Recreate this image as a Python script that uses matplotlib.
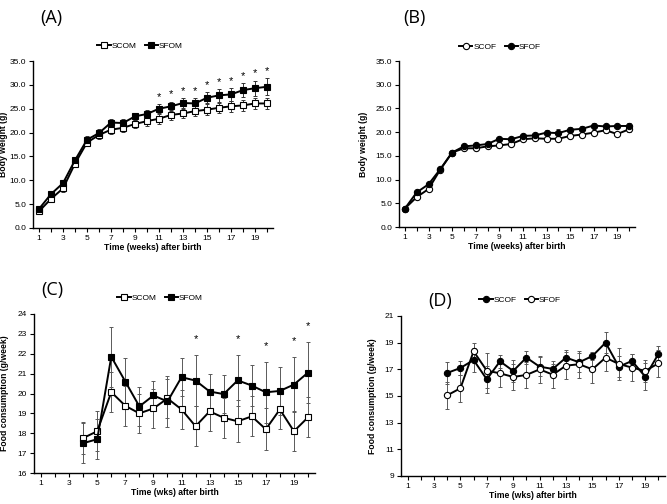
import numpy as np
import matplotlib.pyplot as plt
from matplotlib.ticker import MultipleLocator, FormatStrFormatter

plt.rcParams['font.family'] = ['Liberation Sans', 'DejaVu Sans']

# ---- data ----
weeks_bw = list(range(1, 21))
weeks_fc = list(range(4, 21))

a_scom = [3.5, 6.1, 8.3, 13.5, 17.9, 19.5, 20.6, 21.0, 21.8, 22.4, 22.9, 23.7, 24.0, 24.5, 24.8, 25.2, 25.5, 25.7, 26.1, 26.1]
a_scom_err = [0.5, 0.6, 0.7, 0.8, 0.8, 0.8, 0.9, 0.9, 0.9, 1.0, 1.0, 1.0, 1.0, 1.0, 1.1, 1.1, 1.1, 1.1, 1.2, 1.2]
a_sfom = [4.0, 7.1, 9.4, 14.2, 18.5, 19.9, 22.1, 22.0, 23.4, 23.9, 25.0, 25.5, 26.2, 26.1, 27.3, 27.8, 28.0, 28.9, 29.3, 29.6]
a_sfom_err = [0.4, 0.5, 0.6, 0.7, 0.8, 0.8, 0.8, 0.8, 0.8, 0.9, 1.0, 1.0, 1.1, 1.1, 1.2, 1.3, 1.3, 1.5, 1.6, 1.8]
a_star_weeks = [11, 12, 13, 14, 15, 16, 17, 18, 19, 20]

b_scof = [3.9, 6.3, 8.0, 12.1, 15.7, 16.6, 16.6, 17.0, 17.2, 17.5, 18.5, 18.7, 18.6, 18.6, 19.2, 19.5, 19.9, 20.4, 19.6, 20.6]
b_scof_err = [0.3, 0.4, 0.5, 0.5, 0.4, 0.4, 0.4, 0.4, 0.4, 0.4, 0.4, 0.4, 0.4, 0.4, 0.4, 0.4, 0.5, 0.5, 0.5, 0.5]
b_sfof = [3.9, 7.3, 9.0, 12.2, 15.7, 17.0, 17.2, 17.5, 18.6, 18.5, 19.2, 19.3, 19.9, 19.8, 20.5, 20.7, 21.4, 21.2, 21.3, 21.3]
b_sfof_err = [0.3, 0.4, 0.5, 0.5, 0.4, 0.4, 0.4, 0.4, 0.4, 0.4, 0.4, 0.4, 0.5, 0.8, 0.5, 0.5, 0.5, 0.5, 0.5, 0.6]

c_scom = [17.76, 18.1, 20.07, 19.38, 19.0, 19.25, 19.75, 19.2, 18.35, 19.1, 18.78, 18.6, 18.85, 18.2, 19.2, 18.1, 18.8]
c_scom_err = [0.8, 1.0, 1.0, 1.0, 1.0, 1.0, 1.0, 1.0, 1.0, 1.0, 1.0, 1.05, 1.0, 1.05, 1.0, 1.0, 1.0]
c_sfom = [17.5, 17.7, 21.85, 20.6, 19.35, 19.9, 19.6, 20.82, 20.65, 20.1, 19.97, 20.66, 20.4, 20.06, 20.13, 20.45, 21.05]
c_sfom_err = [1.0, 1.0, 1.5, 1.2, 1.0, 0.75, 1.3, 0.95, 1.3, 0.9, 0.95, 1.3, 1.05, 1.55, 1.2, 1.4, 1.55]
c_star_weeks = [12, 15, 17, 19, 20]

d_scof = [16.73, 17.1, 17.7, 16.25, 17.6, 16.88, 17.88, 17.2, 17.03, 17.88, 17.53, 18.0, 19.0, 17.2, 17.63, 16.45, 18.15]
d_scof_err = [0.8, 0.5, 0.9, 1.0, 0.5, 0.8, 0.5, 0.7, 0.4, 0.6, 0.7, 0.3, 0.8, 0.8, 0.5, 1.0, 0.6]
d_sfof = [15.05, 15.58, 18.35, 16.9, 16.7, 16.43, 16.58, 17.0, 16.6, 17.28, 17.38, 17.0, 17.88, 17.4, 17.13, 16.88, 17.45]
d_sfof_err = [1.0, 1.0, 0.65, 1.3, 1.0, 1.0, 1.0, 1.0, 1.0, 1.0, 1.0, 1.0, 1.0, 1.2, 1.0, 0.8, 1.0]

bw_yticks = [0, 5, 10, 15, 20, 25, 30, 35]
c_yticks = [16, 17, 18, 19, 20, 21, 22, 23, 24]
d_yticks = [9, 11, 13, 15, 17, 19, 21]

W, H = 667, 504


def px_axes(fig, left, right, top, bottom):
    return fig.add_axes([left / W, 1 - bottom / H, (right - left) / W, (bottom - top) / H])


def style(ax, xlabel, ylabel, yticks, yfmt, ylab_x):
    for s in ['top', 'right']:
        ax.spines[s].set_visible(False)
    for s in ['left', 'bottom']:
        ax.spines[s].set_linewidth(1.0)
    ax.set_xlim(0.5, 20.5)
    ax.set_ylim(yticks[0], yticks[-1])
    ax.set_xticks(range(1, 20, 2))
    ax.xaxis.set_minor_locator(MultipleLocator(1))
    ax.set_yticks(yticks)
    ax.yaxis.set_major_formatter(FormatStrFormatter(yfmt))
    ax.tick_params(which='both', direction='out', labelsize=6, length=3, width=0.8, pad=2)
    ax.tick_params(axis='x', which='minor', length=3, width=0.8)
    ax.set_xlabel(xlabel, fontsize=6.2, fontweight='bold', labelpad=1)
    ax.set_ylabel(ylabel, fontsize=6.2, fontweight='bold')
    ax.yaxis.set_label_coords(ylab_x, 0.5)


def series(ax, x, y, err, marker, filled, label, ecolor='0.35'):
    ax.errorbar(x, y, yerr=err, fmt='none', ecolor=ecolor, elinewidth=0.7,
                capsize=1.5, capthick=0.7, zorder=2)
    ax.plot(x, y, color='black', lw=1.4, marker=marker, ms=4.5,
            mfc='black' if filled else 'white', mec='black', mew=0.8,
            label=label, zorder=3)


def stars(ax, weeks_all, y, err, star_weeks, offset):
    for w in star_weeks:
        i = weeks_all.index(w)
        ax.text(w, y[i] + err[i] + offset, '*', ha='center', va='center', fontsize=8)


def legend(ax, fig, cx, cy):
    ax.legend(loc='center', bbox_to_anchor=(cx / W, 1 - cy / H), bbox_transform=fig.transFigure,
              ncol=2, frameon=False, fontsize=6, handlelength=1.6, columnspacing=1.0,
              handletextpad=0.1, borderpad=0)


def panel_label(fig, x, y, s):
    fig.text(x / W, 1 - y / H, s, fontsize=13, family=['Open Sans', 'DejaVu Sans'], va='center')


fig = plt.figure(figsize=(W / 100, H / 100), dpi=100)

# (A)
ax = px_axes(fig, 33, 273, 61, 228)
series(ax, weeks_bw, a_scom, a_scom_err, 's', False, 'SCOM', '0.2')
series(ax, weeks_bw, a_sfom, a_sfom_err, 's', True, 'SFOM', '0.2')
stars(ax, weeks_bw, a_sfom, a_sfom_err, a_star_weeks, 1.5)
style(ax, 'Time (weeks) after birth', 'Body weight (g)', bw_yticks, '%.1f', -0.105)
legend(ax, fig, 140, 46)
panel_label(fig, 40, 18, '(A)')

# (B)
ax = px_axes(fig, 399, 635, 61, 227)
series(ax, weeks_bw, b_scof, b_scof_err, 'o', False, 'SCOF', '0.2')
series(ax, weeks_bw, b_sfof, b_sfof_err, 'o', True, 'SFOF', '0.2')
style(ax, 'Time (weeks) after birth', 'Body weight (g)', bw_yticks, '%.1f', -0.13)
legend(ax, fig, 500, 47)
panel_label(fig, 403, 18, '(B)')

# (C)
ax = px_axes(fig, 34, 315, 314, 473)
series(ax, weeks_fc, c_scom, c_scom_err, 's', False, 'SCOM')
series(ax, weeks_fc, c_sfom, c_sfom_err, 's', True, 'SFOM')
stars(ax, weeks_fc, c_sfom, c_sfom_err, c_star_weeks, 0.8)
style(ax, 'Time (wks) after birth', 'Food consumption (g/week)', c_yticks, '%d', -0.09)
legend(ax, fig, 160, 298)
panel_label(fig, 41, 290, '(C)')

# (D)
ax = px_axes(fig, 401, 665, 316, 476)
series(ax, weeks_fc, d_scof, d_scof_err, 'o', True, 'SCOF')
series(ax, weeks_fc, d_sfof, d_sfof_err, 'o', False, 'SFOF')
style(ax, 'Time (wks) after birth', 'Food consumption (g/week)', d_yticks, '%d', -0.09)
legend(ax, fig, 520, 300)
panel_label(fig, 428, 301, '(D)')

fig.savefig('out.png', dpi=100)
